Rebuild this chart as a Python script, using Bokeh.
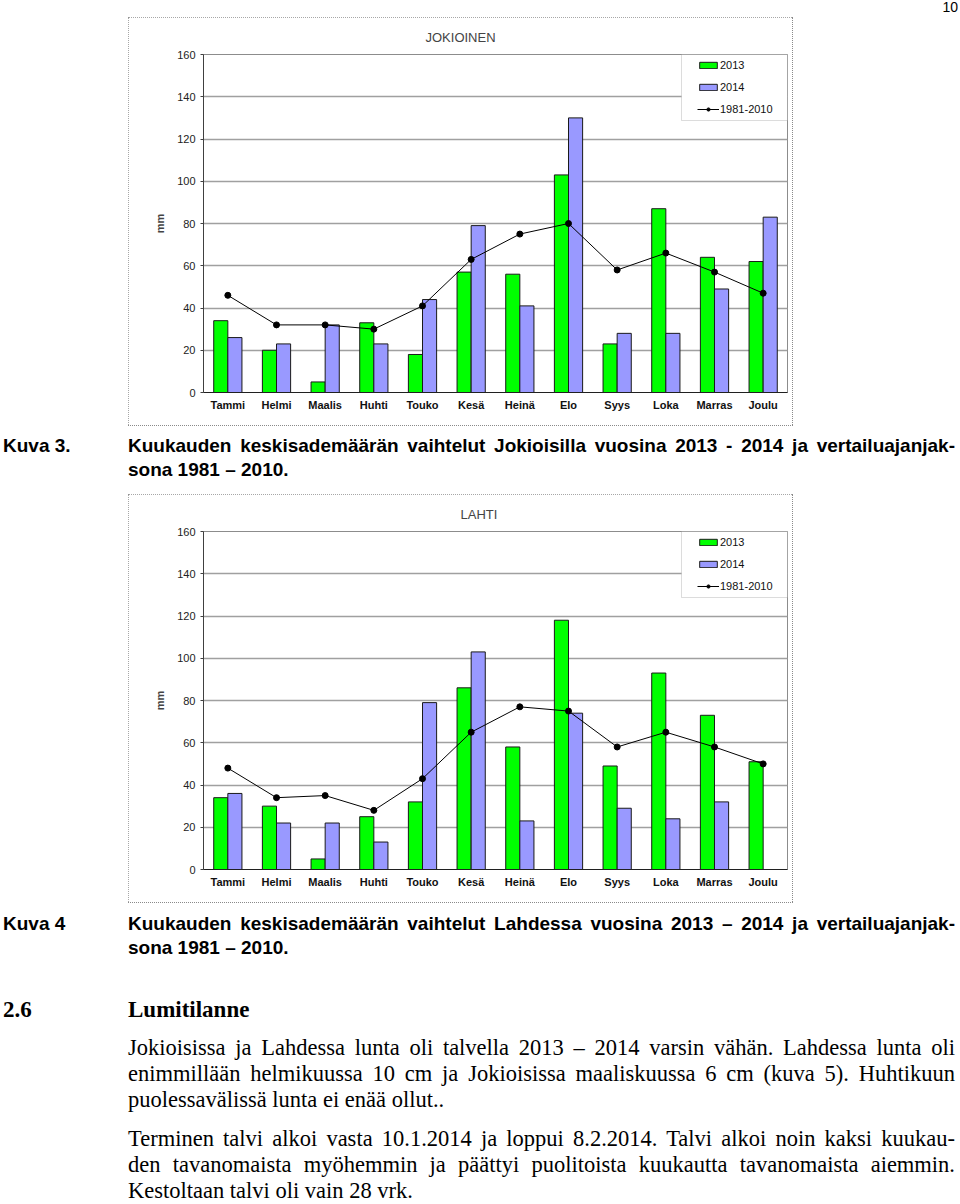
import numpy as np
from bokeh.plotting import figure
from bokeh.models import (ColumnDataSource, FactorRange, Range1d, FixedTicker,
                          BoxAnnotation, Div, Spacer)
from bokeh.transform import dodge
from bokeh.layouts import column, row
from bokeh.embed import file_html
from bokeh.resources import INLINE

# ---------------- data ----------------
months = ["Tammi", "Helmi", "Maalis", "Huhti", "Touko", "Kesä",
          "Heinä", "Elo", "Syys", "Loka", "Marras", "Joulu"]
y_ticks = [0, 20, 40, 60, 80, 100, 120, 140, 160]
series_names = ["2013", "2014", "1981-2010"]

jok_2013 = [34, 20, 5, 33, 18, 57, 56, 103, 23, 87, 64, 62]
jok_2014 = [26, 23, 32, 23, 44, 79, 41, 130, 28, 28, 49, 83]
jok_norm = [46, 32, 32, 30, 41, 63, 75, 80, 58, 66, 57, 47]

lah_2013 = [34, 30, 5, 25, 32, 86, 58, 118, 49, 93, 73, 51]
lah_2014 = [36, 22, 22, 13, 79, 103, 23, 74, 29, 24, 32, np.nan]
lah_norm = [48, 34, 35, 28, 43, 65, 77, 75, 58, 65, 58, 50]

page_number = "10"
cap3_label = "Kuva 3."
cap3_lines = ["Kuukauden keskisademäärän vaihtelut Jokioisilla vuosina 2013 - 2014 ja vertailuajanjak-",
              "sona 1981 – 2010."]
cap4_label = "Kuva 4"
cap4_lines = ["Kuukauden keskisademäärän vaihtelut Lahdessa vuosina 2013 – 2014 ja vertailuajanjak-",
              "sona 1981 – 2010."]
heading_num = "2.6"
heading_txt = "Lumitilanne"
para1 = ["Jokioisissa ja Lahdessa lunta oli talvella 2013 – 2014 varsin vähän. Lahdessa lunta oli",
         "enimmillään helmikuussa 10 cm ja Jokioisissa maaliskuussa 6 cm (kuva 5). Huhtikuun",
         "puolessavälissä lunta ei enää ollut.."]
para2 = ["Terminen talvi alkoi vasta 10.1.2014 ja loppui 8.2.2014. Talvi alkoi noin kaksi kuukau-",
         "den tavanomaista myöhemmin ja päättyi puolitoista kuukautta tavanomaista aiemmin.",
         "Kestoltaan talvi oli vain 28 vrk."]

# ---------------- styling constants ----------------
SANS = "Liberation Sans"
SERIF = "Liberation Serif"
GREEN = "#00ff00"
BLUE = "#9999ff"
BOX_LINE = "1px dotted #8a8a8a"
FRAME_W, FRAME_H = 584, 338
B_LEFT, B_RIGHT, B_TOP, B_BOTTOM = 75, 5, 37, 33
CANVAS_W = B_LEFT + FRAME_W + B_RIGHT
CANVAS_H = B_TOP + FRAME_H + B_BOTTOM
Y_MAX = 160
LEG_W_PX, LEG_H_PX = 106, 66


def make_chart(title, title_offset, v13, v14, vnorm, top_margin):
    src = ColumnDataSource(dict(month=months, a=np.array(v13, dtype=float),
                                b=np.array(v14, dtype=float),
                                n=np.array(vnorm, dtype=float)))
    p = figure(x_range=FactorRange(factors=months), y_range=Range1d(0, Y_MAX),
               frame_width=FRAME_W, frame_height=FRAME_H,
               min_border_left=B_LEFT, min_border_right=B_RIGHT,
               min_border_top=B_TOP, min_border_bottom=B_BOTTOM,
               output_backend="svg", toolbar_location=None,
               margin=(top_margin, 0, 0, 0),
               styles={"outline": BOX_LINE, "outline-offset": "-1px"})
    p.background_fill_color = "white"
    p.border_fill_color = "white"
    p.outline_line_color = "#8c8c8c"
    p.outline_line_width = 1

    # title
    p.title.text = title
    p.title.align = "left"
    p.title.offset = title_offset
    p.title.text_font = SANS
    p.title.text_font_size = "13px"
    p.title.text_font_style = "normal"
    p.title.standoff = 20

    # legend box (white, grey border) drawn under the legend items
    ppx = FRAME_W / len(months)
    ppy = FRAME_H / Y_MAX
    box = BoxAnnotation(left=len(months) - LEG_W_PX / ppx, right=len(months),
                        top=Y_MAX, bottom=Y_MAX - LEG_H_PX / ppy,
                        fill_color="white", fill_alpha=1.0,
                        line_color="#8c8c8c", line_width=1)
    p.add_layout(box)

    p.vbar(x=dodge("month", -0.145, range=p.x_range), top="a", width=0.29,
           source=src, fill_color=GREEN, line_color="#1a1a1a", line_width=1,
           legend_label=series_names[0])
    p.vbar(x=dodge("month", 0.145, range=p.x_range), top="b", width=0.29,
           source=src, fill_color=BLUE, line_color="#1a1a1a", line_width=1,
           legend_label=series_names[1])
    p.line(x="month", y="n", source=src, line_color="black", line_width=1,
           legend_label=series_names[2])
    p.scatter(x="month", y="n", source=src, size=6, fill_color="black",
              line_color="black", legend_label=series_names[2])

    # grid
    p.xgrid.grid_line_color = None
    p.ygrid.grid_line_color = "#a0a0a0"
    p.ygrid.grid_line_width = 1.3
    p.yaxis.ticker = FixedTicker(ticks=y_ticks)

    # y axis
    ya = p.yaxis[0]
    ya.axis_label = "mm"
    ya.axis_label_text_font = SANS
    ya.axis_label_text_font_size = "11px"
    ya.axis_label_text_font_style = "bold"
    ya.axis_label_standoff = 8
    ya.major_label_text_font = SANS
    ya.major_label_text_font_size = "11px"
    ya.major_label_text_color = "#222222"
    ya.major_tick_in = 0
    ya.major_tick_out = 3
    ya.minor_tick_line_color = None
    ya.axis_line_color = "#404040"
    ya.major_tick_line_color = "#404040"
    ya.major_label_standoff = 5

    # x axis
    xa = p.xaxis[0]
    xa.major_label_text_font = SANS
    xa.major_label_text_font_size = "11px"
    xa.major_label_text_font_style = "bold"
    xa.major_label_text_color = "#111111"
    xa.major_tick_line_color = None
    xa.major_tick_in = 0
    xa.major_tick_out = 0
    xa.major_label_standoff = 6
    xa.axis_line_color = "#202020"

    # legend
    lg = p.legend[0]
    lg.location = "top_right"
    lg.margin = 0
    lg.padding = 4
    lg.spacing = 8
    lg.label_height = 14
    lg.glyph_height = 8
    lg.glyph_width = 22
    lg.label_standoff = 1
    lg.label_width = 63
    lg.border_line_alpha = 0
    lg.background_fill_alpha = 0
    lg.label_text_font = SANS
    lg.label_text_font_size = "11px"
    lg.label_text_color = "#111111"
    return p


p1 = make_chart("JOKIOINEN", 222, jok_2013, jok_2014, jok_norm, 17)
p2 = make_chart("LAHTI", 257, lah_2013, lah_2014, lah_norm, 0)

PAGE_W = 956


def jline(t):
    return ('<div style="text-align:justify;text-align-last:justify;white-space:normal;">%s</div>' % t)


def pline(t):
    return '<div style="text-align:left;white-space:nowrap;">%s</div>' % t


def caption_block(label, lines, top):
    return ('<div style="position:absolute;left:3px;top:%dpx;white-space:nowrap;">%s</div>'
            '<div style="position:absolute;left:128px;top:%dpx;width:827px;">%s%s</div>'
            % (top, label, top, jline(lines[0]), pline(lines[1])))


def box_bottom_edge():
    return ('<div style="position:absolute;left:128px;top:0;width:665px;height:0;'
            'border-top:%s;"></div>' % BOX_LINE)


def box_right_edge(h, top):
    return Div(text='<div style="width:0;height:%dpx;border-left:%s;"></div>' % (h, BOX_LINE),
               width=146, height=h, margin=(top, 0, 0, 0))


sans_style = ("font-family:'%s',Arial,sans-serif;font-weight:bold;font-size:19px;"
              "line-height:24px;color:#000;" % SANS)
serif_style = ("font-family:'%s','Times New Roman',serif;font-size:22.5px;"
               "line-height:26px;color:#000;" % SERIF)

num_div = Div(text='<div style="width:20px;height:16px;font-family:\'%s\',Arial,sans-serif;'
                   'font-size:14px;line-height:14px;text-align:right;">%s</div>'
                   % (SANS, page_number),
              width=20, height=16, margin=0)

cap1 = Div(text='<div style="position:relative;width:%dpx;height:69px;%s">%s%s</div>'
                % (PAGE_W, sans_style, box_bottom_edge(),
                   caption_block(cap3_label, cap3_lines, 9)),
           width=PAGE_W, height=69, margin=0)

BODY_H = 300
body_html = (
    '<div style="position:relative;width:%dpx;height:%dpx;overflow:hidden;">'
    '%s'
    '<div style="position:absolute;left:0;top:0;width:%dpx;height:60px;%s">%s</div>'
    '<div style="position:absolute;left:0;top:95px;width:%dpx;height:26px;%s">'
    '<div style="position:absolute;left:3px;top:0;font-weight:bold;font-size:23px;white-space:nowrap;">%s</div>'
    '<div style="position:absolute;left:128px;top:0;font-weight:bold;font-size:23px;white-space:nowrap;">%s</div></div>'
    '<div style="position:absolute;left:128px;top:133px;width:827px;%s">%s%s%s</div>'
    '<div style="position:absolute;left:128px;top:224px;width:827px;%s">%s%s%s</div>'
    '</div>'
) % (PAGE_W, BODY_H, box_bottom_edge(),
     PAGE_W, sans_style, caption_block(cap4_label, cap4_lines, 10),
     PAGE_W, serif_style, heading_num, heading_txt,
     serif_style, jline(para1[0]), jline(para1[1]), pline(para1[2]),
     serif_style, jline(para2[0]), jline(para2[1]), pline(para2[2]))

body = Div(text=body_html, width=PAGE_W, height=BODY_H, margin=0)

row1 = row(Spacer(width=128, height=425, margin=0), p1,
           box_right_edge(CANVAS_H, 17), num_div, spacing=0)
row2 = row(Spacer(width=128, height=CANVAS_H, margin=0), p2,
           box_right_edge(CANVAS_H, 0), spacing=0)
layout = column(row1, cap1, row2, body, spacing=0)

open("out.html", "w").write(file_html(layout, INLINE))
